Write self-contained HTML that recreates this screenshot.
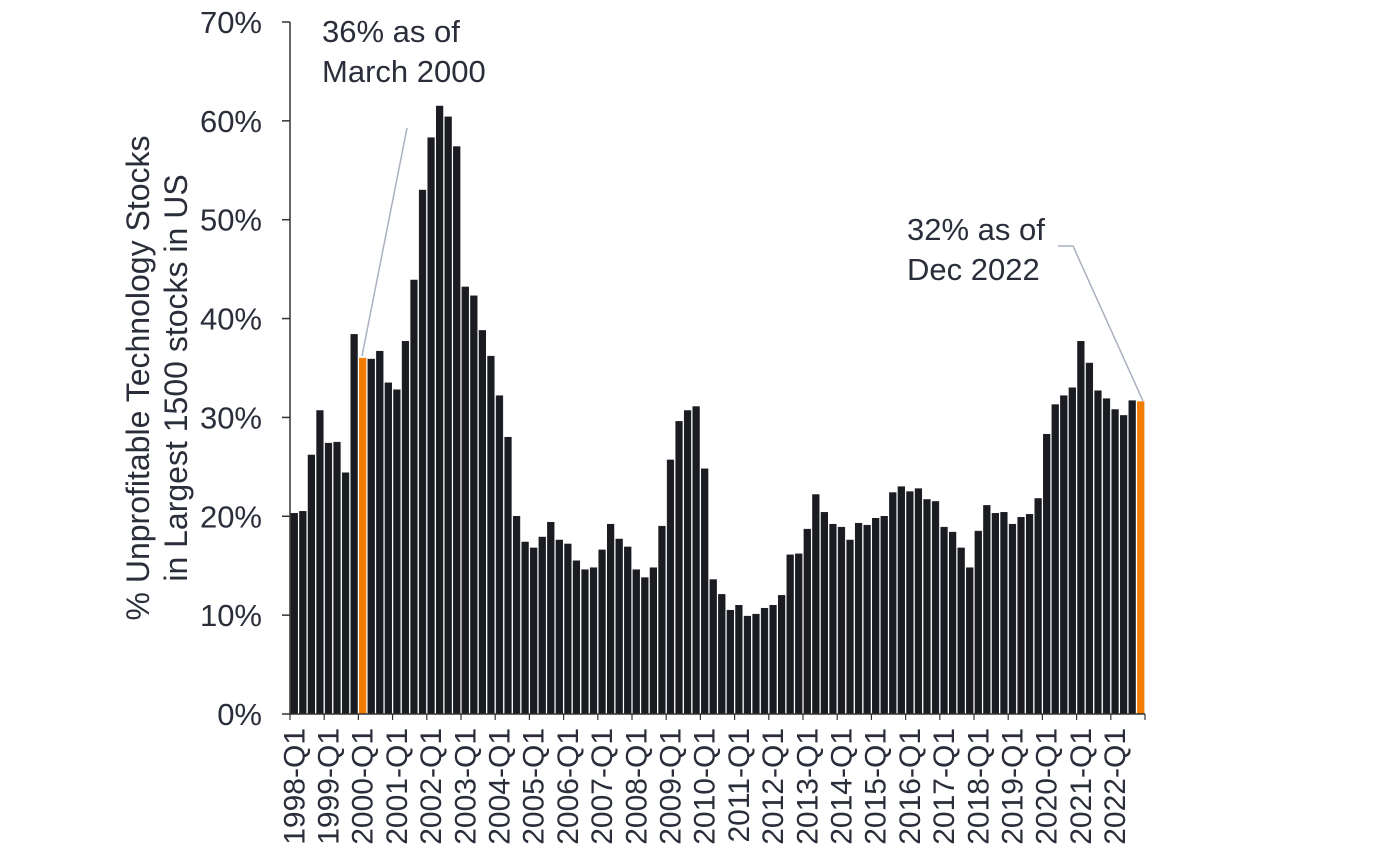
<!DOCTYPE html>
<html><head><meta charset="utf-8"><style>
html,body{margin:0;padding:0;background:#fff;}
svg{display:block;font-family:"Liberation Sans",sans-serif;fill:#2a2d3a;}
</style></head><body>
<svg id="s" width="1383" height="866" viewBox="0 0 1383 866">
<g font-size="31" text-anchor="end" id="yl"></g>
<text font-size="32" text-anchor="middle" transform="translate(149,378) rotate(-90)">% Unprofitable Technology Stocks</text>
<text font-size="32" text-anchor="middle" transform="translate(187,378) rotate(-90)">in Largest 1500 stocks in US</text>
<g id="bars"></g>
<line x1="290" y1="22" x2="290" y2="714" stroke="#333" stroke-width="1.5"/>
<line x1="290" y1="714" x2="1145" y2="714" stroke="#333" stroke-width="1.5"/>
<g id="xl" font-size="30"></g>
<text x="322" y="42" font-size="31">36% as of</text>
<text x="322" y="82" font-size="31">March 2000</text>
<line x1="407" y1="128" x2="362" y2="356" stroke="#a9b0c0" stroke-width="1.5"/>
<text x="907" y="240" font-size="31">32% as of</text>
<text x="907" y="280" font-size="31">Dec 2022</text>
<polyline points="1058,246 1073,246 1143,401" fill="none" stroke="#a9b0c0" stroke-width="1.5"/>
</svg>
<script>
var v=[20.3,20.5,26.2,30.7,27.4,27.5,24.4,38.4,36,35.9,36.7,33.5,32.8,37.7,43.9,53.0,58.3,61.5,60.4,57.4,43.2,42.3,38.8,36.2,32.2,28.0,20.0,17.4,16.8,17.9,19.4,17.6,17.2,15.5,14.6,14.8,16.6,19.2,17.7,16.9,14.6,13.8,14.8,19.0,25.7,29.6,30.7,31.1,24.8,13.6,12.1,10.5,11.0,9.9,10.1,10.7,11.0,12.0,16.1,16.2,18.7,22.2,20.4,19.2,18.9,17.6,19.3,19.1,19.8,20.0,22.4,23.0,22.5,22.8,21.7,21.5,18.9,18.4,16.8,14.8,18.5,21.1,20.3,20.4,19.2,19.9,20.2,21.8,28.3,31.3,32.2,33.0,37.7,35.5,32.7,31.9,30.8,30.2,31.7,31.6];
var ns="http://www.w3.org/2000/svg",x0=290,w=8.55,y0=714,k=9.886;
function el(t,a,p,txt){var e=document.createElementNS(ns,t);for(var i in a)e.setAttribute(i,a[i]);if(txt)e.textContent=txt;document.getElementById(p).appendChild(e);}
v.forEach(function(d,i){var h=d*k;var o=(i==8||i==99);
el('rect',{x:x0+i*w+0.9,y:y0-h,width:w-1.8,height:h,fill:o?'#f07d00':'#1a1c22',stroke:o?'#f07d00':'#1a1c22','stroke-width':0.5},'bars');});
for(var p=0;p<=7;p++){el('text',{x:262,y:y0-p*10*k+11},'yl',p*10+'%');el('line',{x1:282,x2:290,y1:y0-p*10*k,y2:y0-p*10*k,stroke:'#333','stroke-width':1.5},'yl');}
for(var yr=0;yr<25;yr++){var cx=x0+yr*4*w+w/2;
el('text',{x:0,y:0,'text-anchor':'end',transform:'translate('+(cx+10)+',728) rotate(-90)'},'xl',(1998+yr)+'-Q1');}
for(var t=0;t<=25;t++){var tx=x0+t*4*w;el('line',{x1:tx,x2:tx,y1:714,y2:720,stroke:'#333','stroke-width':1.2},'xl');}
</script>
</body></html>
